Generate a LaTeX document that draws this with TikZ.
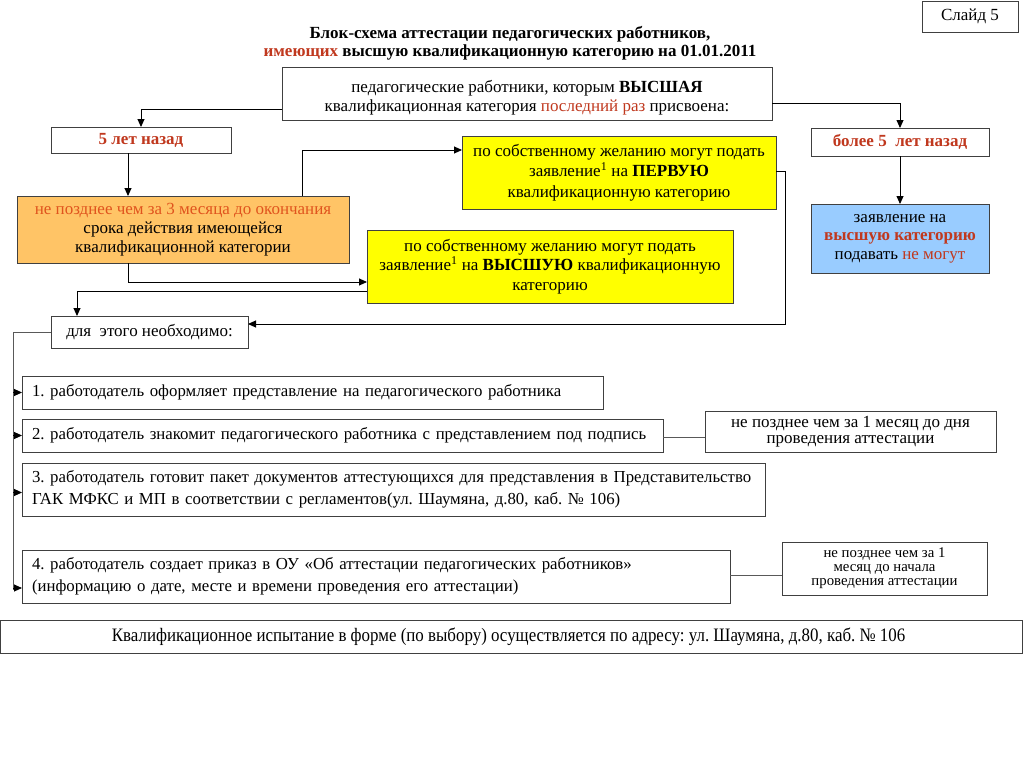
\documentclass[tikz,border=0pt]{standalone}
\usepackage{fontspec}
\setmainfont{Liberation Serif}
\usepackage{graphicx}
\usetikzlibrary{arrows.meta, positioning, calc}
\definecolor{accent}{HTML}{C0381E}
\definecolor{accentlight}{HTML}{E0541E}
\definecolor{orangebox}{HTML}{FFC466}
\definecolor{yellowbox}{HTML}{FFFF00}
\definecolor{bluebox}{HTML}{99CCFF}
\frenchspacing

\begin{document}
\begin{tikzpicture}[x=1pt,y=-1pt]
  \tikzset{
    box/.style={rectangle, draw=black!75, line width=0.9pt, inner sep=0pt, outer sep=0pt,
                anchor=north west, align=center, font=\fontsize{17}{19.5}\selectfont},
    stepbox/.style={box, inner xsep=10pt, align=left, font=\fontsize{16.8}{21.5}\selectfont},
    note/.style={box, font=\fontsize{17}{16}\selectfont},
    pfeil/.style={-{Triangle[length=8pt,width=7pt]}, line width=0.9pt},
    linie/.style={line width=0.9pt, draw=black!65}
  }
  \fill[white] (0,0) rectangle (1024,768);
  \useasboundingbox (0,0) rectangle (1024,768);

  % header
  \node[box, minimum width=96pt, minimum height=31pt] (slide) at (922,1) {Слайд 5};
  \node[font=\bfseries\fontsize{17}{18.5}\selectfont, align=center] (title) at (510,43) {
    Блок-схема аттестации педагогических работников,\\
    \textcolor{accent}{имеющих} высшую квалификационную категорию на 01.01.2011
  };

  \node[box, minimum width=490pt, minimum height=53pt] (top) at (282,67) {
    \rule{0pt}{21pt}педагогические работники, которым \textbf{ВЫСШАЯ}\\
    квалификационная категория \textcolor{accent}{последний раз} присвоена:
  };

  % left branch
  \node[box, minimum width=180pt, minimum height=26pt, text=accent,
        font=\bfseries\fontsize{17}{19}\selectfont] (five) at (51,127) {5 лет назад};

  \node[box, fill=orangebox, minimum width=332pt, minimum height=67pt,
        font=\fontsize{17}{19}\selectfont] (orange) at (17,196) {
    \textcolor{accentlight}{не позднее чем за 3 месяца до окончания}\\
    срока действия имеющейся\\
    квалификационной категории
  };

  \node[box, fill=yellowbox, minimum width=314pt, minimum height=73pt,
        font=\fontsize{17}{20.5}\selectfont] (first) at (462,136) {
    по собственному желанию могут подать\\
    заявление\textsuperscript{1} на \textbf{ПЕРВУЮ}\\
    квалификационную категорию
  };

  \node[box, fill=yellowbox, minimum width=366pt, minimum height=73pt,
        font=\fontsize{17}{19.5}\selectfont] (highest) at (367,230) {
    по собственному желанию могут подать\\
    заявление\textsuperscript{1} на \textbf{ВЫСШУЮ} квалификационную\\
    категорию
  };

  % right branch
  \node[box, minimum width=178pt, minimum height=28pt, text=accent,
        font=\bfseries\fontsize{17}{19}\selectfont] (more) at (811,128) {более 5~ лет назад};

  \node[box, fill=bluebox, minimum width=178pt, minimum height=69pt,
        font=\fontsize{17}{18.5}\selectfont] (denied) at (811,204) {
    заявление на\\
    \textcolor{accent}{\textbf{высшую категорию}}\\
    подавать \textcolor{accent}{не могут}
  };

  % steps
  \node[box, minimum width=197pt, minimum height=32pt] (need) at (51,316) {для~ этого необходимо:};

  \node[stepbox, minimum height=33pt, text width=561pt] (step1) at (22,376) {
    \mbox{1. работодатель оформляет представление на педагогического работника}
  };
  \node[stepbox, minimum height=33pt, text width=621pt] (step2) at (22,419) {
    \mbox{2. работодатель знакомит педагогического работника с представлением под подпись}
  };
  \node[stepbox, minimum height=53pt, text width=723pt] (step3) at (22,463) {
    \mbox{3. работодатель готовит пакет документов аттестующихся для представления в Представительство}\\
    \mbox{ГАК МФКС и МП в соответствии с регламентов(ул. Шаумяна, д.80, каб. № 106)}
  };
  \node[stepbox, minimum height=53pt, text width=688pt] (step4) at (22,550) {
    \mbox{4. работодатель создает приказ в ОУ «Об аттестации педагогических работников»}\\
    \mbox{(информацию о дате, месте и времени проведения его аттестации)}
  };

  \node[note, minimum width=291pt, minimum height=41pt] (term1) at (705,411) {
    не позднее чем за 1 месяц до дня\\
    проведения аттестации
  };
  \node[note, minimum width=205pt, minimum height=53pt,
        font=\fontsize{14.8}{14}\selectfont] (term2) at (782,542) {
    не позднее чем за 1\\
    месяц до начала\\
    проведения аттестации
  };

  \node[box, minimum width=1022pt, minimum height=33pt] (exam) at (0,620) {
    \fontsize{19}{20}\selectfont
    \scalebox{0.89}[1]{Квалификационное испытание в форме (по выбору) осуществляется по адресу: ул. Шаумяна, д.80, каб. № 106}
  };

  % connectors
  \draw[pfeil] ([yshift=-15.5pt]top.west) -| (five.north);
  \draw[pfeil] ([yshift=-9.5pt]top.east) -| (more.north);
  \draw[pfeil] ([xshift=-13pt]five.south) -- ([xshift=-13pt]five.south |- orange.north);
  \draw[pfeil] (more.south) -- (denied.north);
  \draw[pfeil] ([xshift=-47pt]orange.north east) |- ([yshift=22.5pt]first.west);
  \draw[pfeil] ([xshift=-55pt]orange.south) |- ([yshift=-15.5pt]highest.west);
  \draw[pfeil] ([yshift=-24.5pt]highest.west) -| ([xshift=-72.5pt]need.north);
  \draw[pfeil] ([yshift=1.5pt]first.east) -- ++(9,0) |- ([yshift=8pt]need.east);

  \draw[linie] (need.west) -- ++(-38,0) coordinate (trunk) -- ([yshift=-13pt]trunk |- step4.west);
  \draw[pfeil] (trunk |- step1.west) -- (step1.west);
  \draw[pfeil] (trunk |- step2.west) -- (step2.west);
  \draw[pfeil] ([yshift=-3pt]trunk |- step3.west) -- ([yshift=-3pt]step3.west);
  \draw[pfeil] ([yshift=-11.5pt]trunk |- step4.west) -- ([yshift=-11.5pt]step4.west);

  \draw[linie] ([yshift=-1.5pt]step2.east) -- ([yshift=-1.5pt]step2.east -| term1.west);
  \draw[linie] ([yshift=1.5pt]step4.east) -- ([yshift=1.5pt]step4.east -| term2.west);

\end{tikzpicture}
\end{document}
